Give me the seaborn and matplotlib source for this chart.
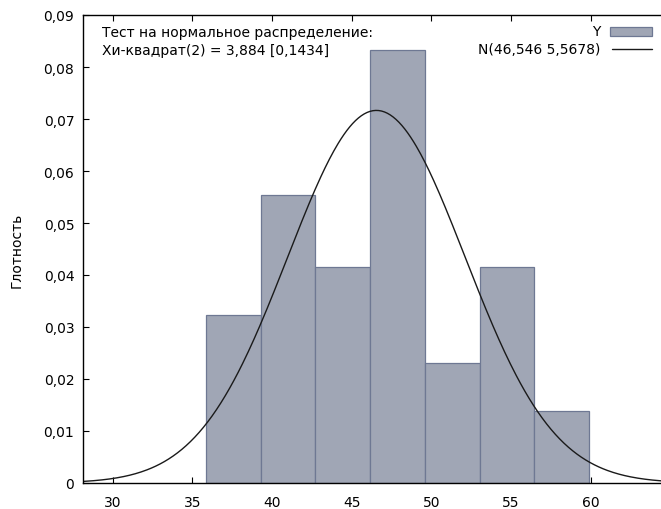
import numpy as np
import pandas as pd
import seaborn as sns
import matplotlib
matplotlib.use("Agg")
import matplotlib.pyplot as plt
from matplotlib.ticker import FuncFormatter, MultipleLocator
from matplotlib.patches import Rectangle
from matplotlib.lines import Line2D

# Histogram of Y (density scale) and fitted normal N(mean, sd)
bin_edges = [35.84, 39.28, 42.72, 46.15, 49.59, 53.03, 56.47, 59.91]
densities = [0.0324, 0.0554, 0.0416, 0.0832, 0.0231, 0.0416, 0.0139]
norm_mean = 46.546
norm_sd = 5.5678
test_lines = ["Тест на нормальное распределение:",
              "Хи-квадрат(2) = 3,884 [0,1434]"]
legend_labels = ["Y", "N(46,546 5,5678)"]
y_label = "Глотность"

W, H = 661, 510
sns.set_style("ticks")
plt.rcParams["font.family"] = ["DejaVu Sans"]
plt.rcParams["font.size"] = 10
plt.rcParams["text.color"] = "black"
plt.rcParams["axes.labelcolor"] = "black"
plt.rcParams["xtick.color"] = "black"
plt.rcParams["ytick.color"] = "black"

fig = plt.figure(figsize=(W / 100, H / 100), dpi=100)
ax_left, ax_right, ax_top, ax_bottom = 83.3, 661.0, 16.0, 484.0
ax = fig.add_axes([ax_left / W, 1 - ax_bottom / H,
                   (ax_right - ax_left) / W, (ax_bottom - ax_top) / H])

bar_fill = "#a0a6b5"
bar_edge = "#6e7893"

centers = [(a + b) / 2 for a, b in zip(bin_edges[:-1], bin_edges[1:])]
hist_df = pd.DataFrame({"Y": centers, "w": densities})
sns.histplot(data=hist_df, x="Y", weights="w", bins=bin_edges, stat="count",
             color=bar_fill, alpha=1, edgecolor=bar_edge, linewidth=0.9, ax=ax)

xmin, xmax = 28.15, 64.41
xs = np.linspace(xmin, xmax, 400)
pdf = np.exp(-0.5 * ((xs - norm_mean) / norm_sd) ** 2) / (norm_sd * np.sqrt(2 * np.pi))
sns.lineplot(x=xs, y=pdf, color="#1a1a1a", linewidth=1.0, ax=ax)

ax.set_xlim(xmin, xmax)
ax.set_ylim(0, 0.09)
ax.xaxis.set_major_locator(MultipleLocator(5))
ax.yaxis.set_major_locator(MultipleLocator(0.01))
ax.xaxis.set_major_formatter(FuncFormatter(lambda v, p: f"{v:g}"))
ax.yaxis.set_major_formatter(
    FuncFormatter(lambda v, p: "0" if abs(v) < 1e-9 else f"{v:.2f}".replace(".", ",")))
ax.tick_params(axis="both", direction="in", length=4.5, width=0.8, colors="black",
               labelsize=10, top=True, right=False)
ax.tick_params(axis="y", pad=6.5)
ax.tick_params(axis="x", pad=9)
for side in ["left", "bottom", "top"]:
    ax.spines[side].set_linewidth(1.0)
    ax.spines[side].set_color("black")
ax.spines["right"].set_visible(False)
ax.set_xlabel("")
ax.set_ylabel(y_label, fontsize=10, labelpad=14, color="black")

# Normality test note, top left
fig.text(101.7 / W, 1 - 33 / H, test_lines[0], ha="left", va="center", fontsize=10)
fig.text(101.7 / W, 1 - 51 / H, test_lines[1], ha="left", va="center", fontsize=10)

# Key, top right: labels right-aligned, samples on their right
fig.text(600 / W, 1 - 32.5 / H, legend_labels[0], ha="right", va="center", fontsize=10)
fig.text(600 / W, 1 - 50.5 / H, legend_labels[1], ha="right", va="center", fontsize=10)
fig.patches.append(Rectangle((610 / W, 1 - 36.7 / H), 42 / W, 9 / H,
                             transform=fig.transFigure, facecolor=bar_fill,
                             edgecolor=bar_edge, linewidth=0.9))
fig.lines.append(Line2D([612 / W, 652 / W], [1 - 50.3 / H, 1 - 50.3 / H],
                        transform=fig.transFigure, color="#1a1a1a", linewidth=1.0))

fig.savefig("out.png", dpi=100)
